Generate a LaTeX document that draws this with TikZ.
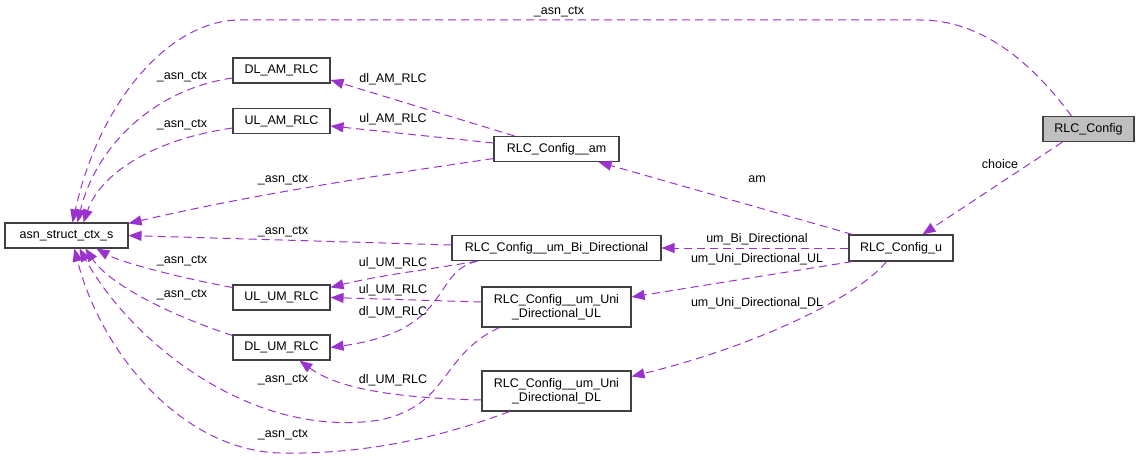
\documentclass[tikz,border=0pt]{standalone}
\usepackage{fontspec}
\setmainfont{Liberation Sans}
\usetikzlibrary{arrows.meta,calc}
\definecolor{edgec}{HTML}{9A32CD}
\definecolor{boxc}{HTML}{404040}
\begin{document}
\begin{tikzpicture}[x=1pt,y=-1pt,
  box/.style={draw=boxc,line width=1.1pt,fill=white,inner sep=0pt,align=center,
    font=\fontsize{12.5}{14}\selectfont},
  rel/.style={draw=edgec,line width=1pt,dash pattern=on 8pt off 5pt,
    -{Triangle[length=13pt,width=10pt]},fill=none},
  lbl/.style={inner sep=0pt,font=\fontsize{12.5}{14}\selectfont}]
\useasboundingbox (0,0) rectangle (1140,460);
% nodes
\node[box,minimum width=123pt,minimum height=25pt] (asn) at (66.5,235.5) {asn\_struct\_ctx\_s};
\node[box,minimum width=97pt,minimum height=25pt] (dlam) at (281.5,70.5) {DL\_AM\_RLC};
\node[box,minimum width=97pt,minimum height=25pt] (ulam) at (281.5,121) {UL\_AM\_RLC};
\node[box,minimum width=125pt,minimum height=25pt] (am) at (556.5,149) {RLC\_Config\_\_am};
\node[box,minimum width=209pt,minimum height=25pt] (bi) at (556.5,248) {RLC\_Config\_\_um\_Bi\_Directional};
\node[box,minimum width=97pt,minimum height=25pt] (ulum) at (281.5,297.5) {UL\_UM\_RLC};
\node[box,minimum width=97pt,minimum height=25pt] (dlum) at (281.5,347.5) {DL\_UM\_RLC};
\node[box,minimum width=149pt,minimum height=40pt] (uniul) at (556.5,307) {RLC\_Config\_\_um\_Uni\\\_Directional\_UL};
\node[box,minimum width=149pt,minimum height=40pt] (unidl) at (556.5,391) {RLC\_Config\_\_um\_Uni\\\_Directional\_DL};
\node[box,minimum width=104pt,minimum height=26pt] (cu) at (901,248) {RLC\_Config\_u};
\node[box,minimum width=91pt,minimum height=25pt,fill=black!25] (rc) at (1088.5,129) {RLC\_Config};
% edges
\draw[rel] ($(rc.north west)+(29,0)$) .. controls (1030,60) and (980,20) .. (920,20)
   -- (240,20) .. controls (170,20) and (100,100) .. ($(asn.north west)+(68,0)$);
\draw[rel] ($(dlam.west)+(0,7.5)$) .. controls (150,90) and (95,150) .. ($(asn.north west)+(73,0)$);
\draw[rel] ($(ulam.west)+(0,7)$) .. controls (150,140) and (100,175) .. ($(asn.north west)+(79,0)$);
\draw[rel] ($(am.south west)+(0,-3.5)$) .. controls (380,175) and (250,195) .. ($(asn.north east)+(0,1)$);
\draw[rel] ($(am.north west)+(21,0)$) -- ($(dlam.east)+(0,9.5)$);
\draw[rel] ($(am.west)+(0,-6)$) -- ($(ulam.east)+(0,5)$);
\draw[rel] ($(cu.north west)+(4,0)$) -- ($(am.south east)+(-21,0)$);
\draw[rel] ($(rc.south west)+(20,0)$) -- ($(cu.north west)+(74,0)$);
\draw[rel] (cu.west) -- (bi.east);
\draw[rel] ($(cu.south west)+(4,0)$) -- ($(uniul.east)+(0,-10)$);
\draw[rel] ($(cu.south west)+(38,0)$) .. controls (860,295) and (760,345) .. ($(unidl.north east)+(0,6)$);
\draw[rel] ($(bi.west)+(0,-3)$) -- (asn.east);
\draw[rel] ($(bi.south west)+(26,0)$) .. controls (440,268) and (380,275) .. ($(ulum.north east)+(0,3)$);
\draw[rel] ($(bi.south west)+(26,0)$) .. controls (430,272) and (455,330) .. (dlum.east);
\draw[rel] ($(ulum.north west)+(0,3)$) .. controls (180,278) and (120,262) .. ($(asn.south west)+(92,0)$);
\draw[rel] ($(uniul.west)+(0,-5)$) -- (ulum.east);
\draw[rel] ($(dlum.north west)+(0,1)$) .. controls (170,315) and (110,285) .. ($(asn.south west)+(81,0)$);
\draw[rel] ($(unidl.west)+(0,9)$) .. controls (400,398) and (340,390) .. ($(dlum.south west)+(67,0)$);
\draw[rel] ($(uniul.south west)+(18,0)$) .. controls (440,355) and (450,405) .. (380,420)
   .. controls (250,440) and (130,340) .. ($(asn.south west)+(75,0)$);
\draw[rel] ($(unidl.south west)+(28,0)$) .. controls (460,430) and (380,455) .. (280,453)
   .. controls (180,450) and (100,350) .. ($(asn.south west)+(70,0)$);
% labels
\node[lbl] (l1) at (559,12) {\_asn\_ctx};
\node[lbl] (l2) at (182,77) {\_asn\_ctx};
\node[lbl] (l3) at (182,125) {\_asn\_ctx};
\node[lbl] (l4) at (283,180) {\_asn\_ctx};
\node[lbl] (l5) at (283,232) {\_asn\_ctx};
\node[lbl] (l6) at (182,261) {\_asn\_ctx};
\node[lbl] (l7) at (182,295) {\_asn\_ctx};
\node[lbl] (l8) at (283,380) {\_asn\_ctx};
\node[lbl] (l9) at (283,435) {\_asn\_ctx};
\node[lbl] (l10) at (393,79) {dl\_AM\_RLC};
\node[lbl] (l11) at (393,119) {ul\_AM\_RLC};
\node[lbl] (l12) at (757,179) {am};
\node[lbl] (l13) at (1000,164) {choice};
\node[lbl] (l14) at (757,239) {um\_Bi\_Directional};
\node[lbl] (l15) at (757,259) {um\_Uni\_Directional\_UL};
\node[lbl] (l16) at (757,303) {um\_Uni\_Directional\_DL};
\node[lbl] (l17) at (393,263) {ul\_UM\_RLC};
\node[lbl] (l18) at (393,290) {ul\_UM\_RLC};
\node[lbl] (l19) at (393,312) {dl\_UM\_RLC};
\node[lbl] (l20) at (393,380) {dl\_UM\_RLC};
\end{tikzpicture}
\end{document}
